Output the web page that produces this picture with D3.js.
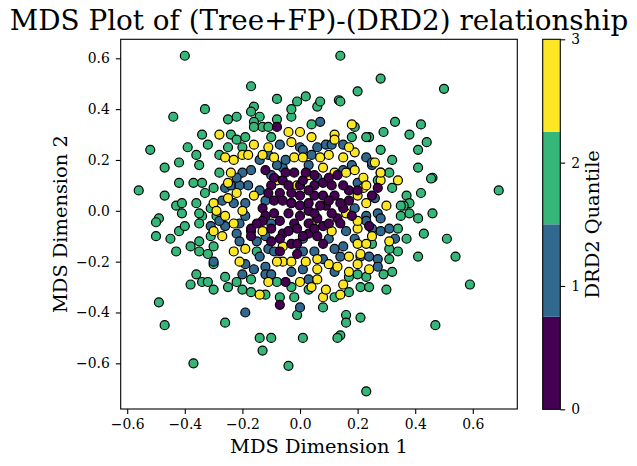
<!DOCTYPE html>
<html><head><meta charset="utf-8">
<script src="https://cdn.jsdelivr.net/npm/d3@7"></script>
<style>
body{margin:0;background:#fff}
svg{display:block}
text{font-family:"DejaVu Serif",serif;fill:#000}
</style>
</head><body>
<svg id="chart" width="637" height="466"></svg>
<script>
// DRD2 quantile 2 (green)
const quantile2 = [
[-0.40,0.61],[-0.17,0.49],[-0.08,0.44],[-0.33,0.40],[-0.44,0.37],[-0.16,0.41],[-0.17,0.39],[-0.14,0.37],[-0.22,0.37],[-0.25,0.36],[-0.16,0.35],[-0.13,0.33],[-0.16,0.33],[-0.34,0.30],[-0.32,0.26],[-0.24,0.30],[-0.22,0.28],[-0.19,0.29],[-0.52,0.24],[-0.39,0.25],[-0.25,0.25],[-0.36,0.22],[-0.42,0.19],[-0.47,0.17],[-0.35,0.18],[-0.42,0.11],[-0.37,0.11],[-0.34,0.11],[-0.56,0.08],[-0.47,0.06],[-0.33,0.07],[-0.30,0.09],[-0.43,0.02],[-0.41,0.03],[-0.36,0.03],[-0.34,-0.02],[-0.49,-0.03],[-0.28,0.15],[-0.28,0.22],[-0.20,0.25],[-0.11,0.33],[-0.10,0.29],[-0.08,0.36],[-0.03,0.37],[-0.03,0.40],[-0.01,0.43],[0.02,0.45],[0.06,0.41],
[0.14,0.61],[0.28,0.52],[0.50,0.48],[0.20,0.47],[0.07,0.43],[0.135,0.435],[0.14,0.43],[0.33,0.35],[0.29,0.31],[0.42,0.34],[0.38,0.30],[0.44,0.27],[0.41,0.24],[0.28,0.24],[0.24,0.29],[0.23,0.29],[0.32,0.20],[0.41,0.17],[0.46,0.13],[0.455,0.127],[0.42,0.07],[0.32,0.09],[0.37,0.06],[0.38,0.03],[0.36,0.02],[0.69,0.08],[0.46,-0.01],[0.35,-0.02],[0.38,-0.01],[0.41,-0.03],[0.18,0.29],[0.19,0.33],[0.04,0.34],
[0.43,-0.09],[0.51,-0.11],[0.37,-0.11],[0.34,-0.16],[0.31,-0.15],[0.31,-0.19],[0.41,-0.18],[0.54,-0.18],[0.59,-0.29],[0.32,-0.24],[0.29,-0.25],[0.30,-0.31],[0.25,-0.13],[0.23,-0.26],[0.21,-0.30],[0.24,-0.30],[0.20,-0.25],[0.17,-0.26],[0.17,-0.32],[0.12,-0.34],[0.08,-0.38],[0.16,-0.41],[0.16,-0.44],[0.21,-0.42],[0.47,-0.45],[0.14,-0.49],[0.13,-0.50],[0.01,-0.50],[0.23,-0.71],[0.03,-0.31],[0.28,0.15],[0.31,0.15],[0.27,0.12],[0.35,0.02],[0.34,-0.07],
[-0.50,-0.045],[-0.50,-0.10],[-0.45,-0.11],[-0.43,-0.16],[-0.42,-0.08],[-0.40,-0.06],[-0.41,-0.01],[-0.35,-0.01],[-0.35,-0.05],[-0.38,-0.14],[-0.35,-0.12],[-0.35,-0.16],[-0.32,-0.17],[-0.30,-0.21],[-0.30,-0.14],[-0.31,-0.10],[-0.29,-0.02],[-0.36,-0.25],[-0.38,-0.29],[-0.34,-0.28],[-0.32,-0.28],[-0.30,-0.31],[-0.26,-0.26],[-0.25,-0.30],[-0.22,-0.28],[-0.20,-0.31],[-0.17,-0.32],[-0.17,-0.27],[-0.15,-0.16],[-0.49,-0.36],[-0.47,-0.45],[-0.26,-0.44],[-0.37,-0.60],[-0.14,-0.50],[-0.10,-0.50],[-0.13,-0.55],[-0.04,-0.61],[-0.08,-0.28],[-0.07,-0.34],[-0.03,-0.30],[-0.02,-0.34],[-0.01,-0.41],[-0.31,0.01],[-0.12,-0.33]
];
// DRD2 quantile 1 (blue)
const quantile1 = [
[-0.14,0.20],[-0.11,0.22],[-0.07,0.26],[0.00,0.25],[0.03,0.18],[0.06,0.13],[-0.17,0.16],[-0.20,0.15],[-0.26,0.09],[-0.24,0.10],[-0.18,0.10],[-0.27,0.04],[-0.23,0.03],[-0.19,0.03],[-0.12,0.04],[-0.06,0.17],[-0.10,0.14],[0.07,0.35],[0.06,0.25],[0.09,0.26],[0.15,0.16],[0.23,0.21],[0.25,0.18],[0.20,0.11],[0.26,0.05],[0.27,-0.01],[0.23,-0.02],[0.19,0.01],[0.01,0.24],[0.15,0.26],[0.11,0.26],[0.25,0.19],
[-0.31,-0.06],[-0.26,-0.06],[-0.22,-0.09],[-0.30,-0.20],[-0.19,-0.40],[-0.19,-0.21],[-0.20,-0.25],[-0.16,-0.23],[-0.12,-0.22],[-0.12,-0.25],[-0.10,-0.25],[-0.11,-0.15],[-0.03,-0.24],[0.01,-0.23],[0.00,-0.38],[0.03,-0.27],[0.01,-0.16],[-0.12,-0.10],[-0.10,-0.05],
[0.28,-0.03],[0.28,-0.08],[0.33,-0.11],[0.12,-0.15],[0.14,-0.18],[0.05,-0.16],[0.21,-0.18],[0.24,-0.18],[0.27,-0.19],[0.12,-0.24],[0.10,-0.11],[0.01,-0.11],[0.23,-0.04],[0.25,-0.07],[0.31,-0.07],[0.15,-0.14],[0.27,-0.22],
[-0.21,0.10],[-0.28,-0.04],[-0.21,-0.05],[-0.19,-0.02],[-0.17,-0.08],[-0.21,-0.12],[-0.15,-0.12],[-0.09,-0.16],
[-0.05,0.20],[0.04,0.22],[-0.14,0.08],[-0.08,0.18],[0.16,-0.08],[0.19,-0.11],[-0.14,-0.18],[0.08,-0.19],[0.18,0.18],[-0.22,0.13]
];
// DRD2 quantile 3 (yellow)
const quantile3 = [
[-0.28,0.30],[-0.26,0.21],[-0.23,0.20],[-0.20,0.22],[-0.18,0.22],[-0.16,0.26],[-0.25,0.11],[-0.22,0.07],[-0.16,0.06],[-0.30,0.03],[-0.29,0.00],[-0.20,0.00],[-0.11,0.25],[-0.04,0.31],[-0.03,0.27],[-0.02,0.21],[0.01,0.21],[0.00,0.31],[0.04,0.29],[0.03,0.14],[-0.01,0.10],[-0.08,0.12],[-0.09,0.21],[0.18,0.34],[0.12,0.30],[0.12,0.28],[0.07,0.21],[0.10,0.22],[0.15,0.21],[0.19,0.23],[0.17,0.25],[0.19,0.16],[0.22,0.13],[0.22,0.09],[0.20,0.06],[0.23,0.03],[0.30,0.02],[0.28,0.12],[0.34,0.12],[0.26,0.19],[0.28,0.15],[0.12,0.15],
[-0.26,-0.02],[-0.27,-0.10],[-0.23,-0.16],[-0.21,-0.20],[-0.19,-0.15],[-0.14,-0.33],[-0.11,-0.28],[-0.06,-0.20],[-0.03,-0.20],[0.00,-0.28],[0.04,-0.30],[0.06,-0.19],[0.04,-0.05],[-0.13,-0.08],[-0.06,-0.14],[0.11,-0.08],[0.20,-0.07],[0.20,-0.13],[0.23,-0.13],[0.31,-0.12],[0.17,-0.18],[0.10,-0.21],[0.13,-0.22],[0.20,-0.21],[0.24,-0.23],[0.15,-0.29],[0.14,-0.33],[0.08,-0.34],[0.06,-0.27],[0.09,-0.31],[0.16,-0.01],
[-0.30,-0.08],[-0.23,-0.05],[-0.03,0.03],[-0.24,0.15],[0.16,0.15],[0.23,0.10],[0.20,-0.04],[0.25,-0.10],[0.21,-0.17],[0.06,-0.23],
[-0.13,0.22],[0.08,0.17],[0.02,-0.20],[-0.08,-0.20],[0.17,-0.24],[-0.25,0.05]
];
// DRD2 quantile 0 (purple)
const quantile0 = [
[-0.08,0.33],[-0.12,0.16],[-0.05,0.15],[-0.07,0.07],[-0.03,0.03],[-0.09,0.04],[-0.13,0.01],[-0.04,-0.01],[0.00,-0.02],[0.05,0.10],[0.00,0.10],[0.03,0.00],[0.01,0.12],[0.11,0.10],[0.13,0.14],[0.08,0.06],[0.17,0.08],[0.27,0.09],[0.03,0.03],[0.09,0.02],[0.15,0.01],[0.13,-0.03],[-0.07,-0.37],[-0.05,-0.28],[-0.01,-0.17],[-0.07,-0.16],[-0.09,-0.01],[-0.02,-0.05],[-0.06,-0.09],[0.03,-0.09],[-0.17,-0.07],[-0.17,-0.10],[0.06,-0.03],[0.08,-0.06],[0.14,-0.05],[0.24,-0.06],[0.08,-0.13],
[-0.03,0.07],[0.00,0.06],[-0.12,-0.02],[-0.13,-0.04],[-0.10,-0.07],[-0.07,-0.11],[-0.03,-0.13],[0.01,-0.10],[-0.02,0.15],[0.00,0.02],[0.05,0.14],[0.08,0.11],[0.15,0.10],[0.05,0.06],[0.12,0.06],[0.07,0.02],[0.14,0.03],[0.25,0.06],[0.20,0.08],
[-0.10,0.10],[-0.06,0.12],[-0.04,0.10],[-0.11,0.07],[-0.06,0.04],[-0.07,-0.04],[-0.04,-0.08],[0.03,0.08],[0.03,-0.05],[0.05,-0.01],[0.10,0.13],[0.10,0.04],[0.11,-0.01],[0.10,-0.05],[0.05,-0.07],[-0.09,0.13],[-0.01,-0.07],[0.02,0.15],[0.17,0.04],[0.18,-0.02],[-0.15,-0.05],[-0.01,-0.13],[0.06,-0.10],[-0.10,-0.12]
];
const xTickValues = [-0.6,-0.4,-0.2,0.0,0.2,0.4,0.6];
const yTickValues = [-0.6,-0.4,-0.2,0.0,0.2,0.4,0.6];
const colorbarTicks = [0,1,2,3];
const quantileColors = ["#440154","#31688e","#35b779","#fde725"];
const titleText = "MDS Plot of (Tree+FP)-(DRD2) relationship";
const xLabel = "MDS Dimension 1";
const yLabel = "MDS Dimension 2";
const cbarLabel = "DRD2 Quantile";

const svg = d3.select("#chart");
const L = 120.7, R = 517.3, T = 39.3, B = 409.0;
const x = d3.scaleLinear().domain([-0.6226, 0.7545]).range([L, R]);
const y = d3.scaleLinear().domain([-0.7797, 0.6747]).range([B, T]);

const layers = [
  {q:2, pts:quantile2},
  {q:1, pts:quantile1},
  {q:3, pts:quantile3},
  {q:0, pts:quantile0}
];
const gPts = svg.append("g");
layers.forEach(layer => {
  gPts.selectAll(null).data(layer.pts).enter().append("circle")
    .attr("cx", d => x(d[0])).attr("cy", d => y(d[1]))
    .attr("r", 4.5)
    .attr("fill", quantileColors[layer.q])
    .attr("stroke", "#000").attr("stroke-width", 1.2);
});

// frame
svg.append("rect").attr("x", L).attr("y", T).attr("width", R - L).attr("height", B - T)
  .attr("fill", "none").attr("stroke", "#000").attr("stroke-width", 1.1);

const fmt = d3.format(".1f");
const xAxis = svg.append("g").attr("transform", `translate(0,${B})`)
  .call(d3.axisBottom(x).tickValues(xTickValues).tickFormat(fmt).tickSize(4.9).tickPadding(5));
const yAxis = svg.append("g").attr("transform", `translate(${L},0)`)
  .call(d3.axisLeft(y).tickValues(yTickValues).tickFormat(fmt).tickSize(4.9).tickPadding(6));
[xAxis, yAxis].forEach(a => {
  a.select(".domain").remove();
  a.selectAll(".tick line").attr("stroke", "#000").attr("stroke-width", 1.1);
  a.selectAll(".tick text").attr("font-family", "DejaVu Serif").attr("font-size", "13.9px").attr("fill", "#000");
});

// colorbar
const CL = 542.7, CR = 560.3, CT = 39.3, CB = 409.3;
const cy = d3.scaleLinear().domain([0, 3]).range([CB, CT]);
const bandW = 3 / quantileColors.length;
svg.append("g").selectAll("rect").data(quantileColors).enter().append("rect")
  .attr("x", CL).attr("width", CR - CL)
  .attr("y", (c, i) => cy((i + 1) * bandW))
  .attr("height", (c, i) => cy(i * bandW) - cy((i + 1) * bandW))
  .attr("fill", c => c);
svg.append("rect").attr("x", CL).attr("y", CT).attr("width", CR - CL).attr("height", CB - CT)
  .attr("fill", "none").attr("stroke", "#000").attr("stroke-width", 1.1);
const cAxis = svg.append("g").attr("transform", `translate(${CR},0)`)
  .call(d3.axisRight(cy).tickValues(colorbarTicks).tickFormat(d3.format("d")).tickSize(4.9).tickPadding(6));
cAxis.select(".domain").remove();
cAxis.selectAll(".tick line").attr("stroke", "#000").attr("stroke-width", 1.1);
cAxis.selectAll(".tick text").attr("font-family", "DejaVu Serif").attr("font-size", "13.9px").attr("fill", "#000");

// texts
svg.append("text").attr("x", (L + R) / 2).attr("y", 29.5).attr("text-anchor", "middle")
  .attr("font-size", "27.8px").text(titleText);
svg.append("text").attr("x", (L + R) / 2).attr("y", 453).attr("text-anchor", "middle")
  .attr("font-size", "19.4px").text(xLabel);
svg.append("text").attr("transform", `translate(67,${(T + B) / 2}) rotate(-90)`).attr("text-anchor", "middle")
  .attr("font-size", "19.4px").text(yLabel);
svg.append("text").attr("transform", `translate(599,${(CT + CB) / 2}) rotate(-90)`).attr("text-anchor", "middle")
  .attr("font-size", "19.4px").text(cbarLabel);
</script>
</body></html>
